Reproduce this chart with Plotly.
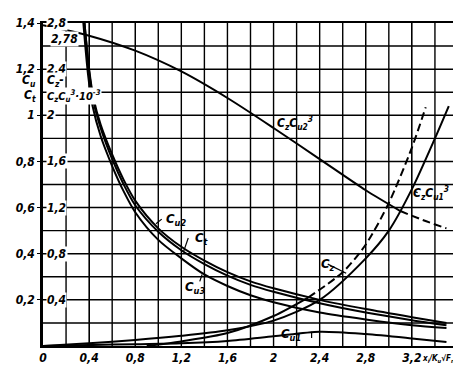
import plotly.graph_objects as go

# ---- data ----
x_desc = [0.36, 0.40, 0.44, 0.5, 0.6, 0.7, 0.8, 1.0, 1.2, 1.4, 1.6, 1.8, 2.0, 2.4, 2.8, 3.2, 3.5]
cu2 = [1.4, 1.2, 1.07, 0.96, 0.83, 0.72, 0.63, 0.51, 0.43, 0.37, 0.32, 0.28, 0.25, 0.2, 0.16, 0.125, 0.1]
ct = [1.4, 1.19, 1.055, 0.945, 0.81, 0.70, 0.61, 0.495, 0.415, 0.355, 0.305, 0.265, 0.235, 0.185, 0.145, 0.112, 0.09]
x_u3 = [0.35, 0.39, 0.43, 0.5, 0.6, 0.7, 0.8, 1.0, 1.2, 1.4, 1.6, 1.8, 2.0, 2.4, 2.8, 3.2, 3.5]
cu3 = [1.4, 1.18, 1.04, 0.91, 0.78, 0.67, 0.58, 0.46, 0.38, 0.31, 0.26, 0.22, 0.19, 0.145, 0.115, 0.09, 0.078]

x_u1 = [0, 0.4, 0.8, 1.2, 1.6, 2.0, 2.4, 2.8, 3.2, 3.5]
cu1 = [0, 0.004, 0.008, 0.012, 0.022, 0.042, 0.062, 0.052, 0.033, 0.017]

x_czcu1 = [0, 0.4, 0.8, 1.2, 1.6, 2.0, 2.4, 2.8, 3.0, 3.2, 3.4, 3.52]
czcu1 = [0, 0.012, 0.026, 0.044, 0.068, 0.11, 0.2, 0.38, 0.5, 0.68, 0.9, 1.04]

x_cz_solid = [0.9, 1.2, 1.6, 2.0, 2.3]
cz_solid = [0, 0.02, 0.056, 0.13, 0.21]
x_cz_dash = [2.3, 2.6, 2.8, 3.0, 3.2, 3.32]
cz_dash = [0.21, 0.32, 0.44, 0.62, 0.86, 1.035]

x_czcu2_solid = [0, 0.4, 0.8, 1.2, 1.6, 2.0, 2.4, 2.8, 3.1]
czcu2_solid = [1.39, 1.345, 1.28, 1.19, 1.075, 0.945, 0.81, 0.675, 0.585]
x_czcu2_dash = [3.1, 3.3, 3.5]
czcu2_dash = [0.585, 0.545, 0.51]

# tick labels
x_tick_vals = [0, 0.4, 0.8, 1.2, 1.6, 2.0, 2.4, 2.8, 3.2]
x_tick_text = ["0", "0,4", "0,8", "1,2", "1,6", "2", "2,4", "2,8", "3,2"]
y_tick_vals = [0.2, 0.4, 0.6, 0.8, 1.0, 1.2, 1.4]
y_tick_text = ["0,2", "0,4", "0,6", "0,8", "1", "1,2", "1,4"]
y2_tick_vals = [0.4, 0.8, 1.2, 1.6, 2.0, 2.4, 2.8]
y2_tick_text = ["0,4", "0,8", "1,2", "1,6", "2", "2,4", "2,8"]
# grid lines (every 0.2 in x, every 0.1 in y)
x_grid = [0.2, 0.4, 0.6, 0.8, 1.0, 1.2, 1.4, 1.6, 1.8, 2.0, 2.2, 2.4, 2.6, 2.8, 3.0, 3.2, 3.4]
y_grid = [0.1, 0.2, 0.3, 0.4, 0.5, 0.6, 0.7, 0.8, 0.9, 1.0, 1.1, 1.2, 1.3]

FONT = "Liberation Sans Narrow, DejaVu Sans Condensed, Liberation Sans, sans-serif"
tick_font = dict(family=FONT, size=12, color="black", style="italic", weight="bold")
lab_font = dict(family=FONT, size=13, color="black", style="italic", weight="bold")

fig = go.Figure()
LW = 2


def add(x, y, dash="solid"):
    fig.add_trace(go.Scatter(x=x, y=y, mode="lines", line=dict(color="black", width=LW, dash=dash,
                                                               shape="spline", smoothing=0.8),
                             showlegend=False, hoverinfo="skip"))


add(x_desc, cu2)
add(x_desc, ct)
add(x_u3, cu3)
add(x_u1, cu1)
add(x_czcu1, czcu1)
add(x_cz_solid, cz_solid)
add(x_cz_dash, cz_dash, dash="8px,4px")
add(x_czcu2_solid, czcu2_solid)
add(x_czcu2_dash, czcu2_dash, dash="8px,4px")

shapes = []
GRID = dict(color="black", width=1.4)
for gx in x_grid:
    shapes.append(dict(type="line", xref="x", yref="paper", x0=gx, x1=gx, y0=0, y1=1,
                       line=GRID, layer="below"))
for gy in y_grid:
    shapes.append(dict(type="line", xref="paper", yref="y", x0=0, x1=1, y0=gy, y1=gy,
                       line=GRID, layer="below"))

ann = []
# inner (second scale) labels
for v, t in zip(y2_tick_vals, y2_tick_text):
    ann.append(dict(x=0.03, y=v / 2, xref="x", yref="y", text=t, showarrow=False, xanchor="left",
                    yanchor="middle", font=tick_font, bgcolor="white", borderpad=0))
ann.append(dict(x=0.06, y=1.33, xref="x", yref="y", text="2,78", showarrow=False, xanchor="left",
                font=tick_font, bgcolor="white", borderpad=0))
ann.append(dict(x=0.03, y=1.15, xref="x", yref="y", text="C<sub>z</sub>-", showarrow=False,
                xanchor="left", font=tick_font, bgcolor="white", borderpad=0))
ann.append(dict(x=0.03, y=1.085, xref="x", yref="y",
                text="C<sub>z</sub>C<sub>u</sub><sup>3</sup>·10<sup>-3</sup>", showarrow=False,
                xanchor="left", font=dict(tick_font, size=11), bgcolor="white", borderpad=0))
# outer extra labels (left of the axis)
ann.append(dict(x=-0.012, y=1.15, xref="paper", yref="y", text="C<sub>u</sub>", showarrow=False,
                xanchor="right", font=tick_font))
ann.append(dict(x=-0.012, y=1.085, xref="paper", yref="y", text="C<sub>t</sub>", showarrow=False,
                xanchor="right", font=tick_font))
# x title
ann.append(dict(x=0.908, y=-0.04, xref="paper", yref="paper", yanchor="middle",
                text="x<sub>i</sub>/K<sub>u</sub>√F<sub>n</sub>", showarrow=False,
                xanchor="left", font=dict(tick_font, size=8)))

# curve labels with leaders: (text, lx, ly, ax, ay, size)
labels = [
    ("C<sub>z</sub>C<sub>u2</sub><sup>3</sup>", 2.19, 0.965, None, None, 12),
    ("C<sub>z</sub>C<sub>u1</sub><sup>3</sup>", 3.37, 0.665, 3.22, 0.67, 12),
    ("C<sub>z</sub>", 2.47, 0.355, 2.63, 0.315, 13),
    ("C<sub>u2</sub>", 1.15, 0.55, 0.98, 0.53, 13),
    ("C<sub>t</sub>", 1.38, 0.468, 1.22, 0.41, 13),
    ("C<sub>u3</sub>", 1.32, 0.255, 1.38, 0.31, 13),
    ("C<sub>u1</sub>", 2.15, 0.05, None, None, 13),
]
for t, lx, ly, axx, ayy, fs in labels:
    ann.append(dict(x=lx, y=ly, xref="x", yref="y", text=t, showarrow=False,
                    font=dict(lab_font, size=fs)))
    if axx is not None:
        sx = lx - 0.12 if axx < lx else lx
        if t.startswith("C<sub>u3"):
            sx = lx + 0.04
            sy = ly + 0.025
        else:
            sy = ly
        shapes.append(dict(type="line", xref="x", yref="y", x0=sx, y0=sy, x1=axx, y1=ayy,
                           line=dict(color="black", width=1.2)))
# Cu1 leader ticks
shapes.append(dict(type="line", xref="x", yref="y", x0=2.33, y0=0.035, x1=2.33, y1=0.062,
                   line=dict(color="black", width=1.2)))

fig.update_layout(
    width=461, height=365,
    margin=dict(l=27, r=8, t=15, b=23),
    plot_bgcolor="white", paper_bgcolor="white",
    annotations=ann, shapes=shapes,
    xaxis=dict(range=[0, 3.6], tickmode="array", tickvals=x_tick_vals, ticktext=x_tick_text,
               tickfont=tick_font, showgrid=True, gridcolor="black", gridwidth=1.4, zeroline=False,
               showline=True, linecolor="black", linewidth=2, mirror=True, ticks=""),
    yaxis=dict(range=[0, 1.4], tickmode="array", tickvals=y_tick_vals, ticktext=y_tick_text,
               tickfont=tick_font, showgrid=True, gridcolor="black", gridwidth=1.4, zeroline=False,
               showline=True, linecolor="black", linewidth=2.5, mirror=True,
               ticks="outside", ticklen=3, tickcolor="black"),
)
fig.write_html("out.html")
